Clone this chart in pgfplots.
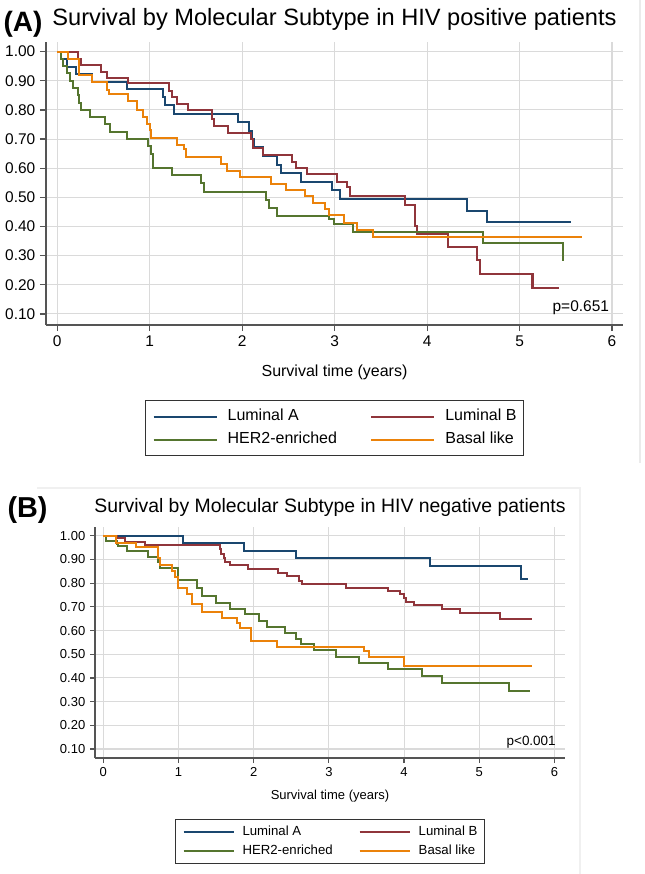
\documentclass[border=0pt]{standalone}
\usepackage{fontspec}
\setmainfont{Liberation Sans}
\usepackage{pgfplots}
\pgfplotsset{compat=1.18}
\definecolor{cA}{RGB}{26,71,111}
\definecolor{cB}{RGB}{144,53,59}
\definecolor{cH}{RGB}{85,117,47}
\definecolor{cO}{RGB}{235,130,10}
\definecolor{gridc}{RGB}{218,218,218}
\definecolor{axc}{RGB}{85,85,85}
\pgfplotsset{
  km/.style={
    scale only axis,
    axis x line*=bottom, axis y line*=left,
    axis line style={-, axc, line width=1.1pt},
    tick style={axc, line width=0.9pt},
    tick align=outside,
    xtick={0,1,2,3,4,5,6},
    ytick={0.1,0.2,0.3,0.4,0.5,0.6,0.7,0.8,0.9,1.0},
    yticklabel style={/pgf/number format/.cd, fixed, fixed zerofill, precision=2},
    /pgf/number format/assume math mode=true,
    grid=major, grid style={gridc, line width=0.8pt},
    legend columns=2,
    legend cell align=left,
  },
}
\begin{document}
\begin{tikzpicture}
\path[use as bounding box] (0pt,0pt) rectangle (483pt,-655.5pt);
% light panel frames
\draw[black!8, line width=0.8pt] (480pt,0pt) -- (480pt,-347pt);
\draw[black!6, line width=0.8pt] (27.75pt,-366pt) -- (435pt,-366pt) -- (435pt,-655.5pt);

% ---------------- Panel A ----------------
\begin{axis}[km,
  at={(34.5pt,-243.75pt)}, anchor=south west,
  width=432.75pt, height=212.25pt,
  xmin=-0.122, xmax=6.119, ymin=0.062, ymax=1.033,
  major tick length=4.5pt,
  tick label style={font=\fontsize{11.6}{13}\selectfont},
  xlabel={Survival time (years)},
  xlabel style={font=\fontsize{12}{14}\selectfont, at={(axis description cs:0.5,0)}, anchor=center, yshift=-35.25pt},
  title={Survival by Molecular Subtype in HIV positive patients},
  title style={font=\fontsize{17.7}{20}\selectfont, at={(axis description cs:0.5,1)}, anchor=base, yshift=6.75pt},
  legend style={at={(0.1716,-0.265)}, anchor=north west, draw=black!80, line width=0.9pt,
    font=\fontsize{12}{14}\selectfont, inner xsep=5.25pt, inner ysep=6.4pt, row sep=6.15pt,
    nodes={inner xsep=0pt, inner ysep=0pt, text height=8.6pt, text depth=2.5pt},
    /tikz/every odd column/.append style={column sep=7.5pt},
    /tikz/every even column/.append style={column sep=25pt}},
  legend image code/.code={\draw[#1] (0pt,0pt) -- (47.25pt,0pt);},
]
\addplot[const plot, cA, line width=1.5pt] coordinates {(0,1.00) (0.04,0.975) (0.10,0.948) (0.20,0.922) (0.38,0.897) (0.75,0.871) (1.14,0.843) (1.17,0.817) (1.26,0.786) (1.96,0.757) (2.07,0.729) (2.11,0.70) (2.13,0.672) (2.22,0.642) (2.38,0.611) (2.42,0.582) (2.64,0.554) (2.97,0.525) (3.06,0.493) (4.43,0.454) (4.65,0.414) (5.56,0.414)};
\addlegendentry{Luminal A}
\addplot[const plot, cB, line width=1.5pt] coordinates {(0,1.00) (0.22,0.975) (0.26,0.955) (0.47,0.93) (0.54,0.91) (0.76,0.893) (1.21,0.865) (1.24,0.845) (1.30,0.82) (1.41,0.80) (1.67,0.77) (1.70,0.745) (1.85,0.72) (2.09,0.70) (2.12,0.67) (2.22,0.645) (2.54,0.62) (2.58,0.60) (2.70,0.579) (3.03,0.554) (3.13,0.537) (3.17,0.506) (3.76,0.474) (3.87,0.40) (3.89,0.373) (4.23,0.328) (4.54,0.285) (4.57,0.236) (5.14,0.188) (5.43,0.188)};
\addlegendentry{Luminal B}
\addplot[const plot, cH, line width=1.5pt] coordinates {(0,1.00) (0.04,0.975) (0.06,0.95) (0.10,0.925) (0.14,0.90) (0.17,0.875) (0.22,0.85) (0.24,0.825) (0.26,0.80) (0.35,0.775) (0.52,0.75) (0.57,0.725) (0.75,0.70) (0.98,0.675) (1.01,0.65) (1.04,0.60) (1.24,0.575) (1.55,0.55) (1.59,0.52) (2.26,0.49) (2.29,0.465) (2.38,0.435) (2.94,0.425) (2.99,0.41) (3.20,0.38) (4.60,0.342) (5.47,0.283)};
\addlegendentry{HER2-enriched}
\addplot[const plot, cO, line width=1.5pt] coordinates {(0,1.00) (0.12,0.975) (0.23,0.95) (0.24,0.92) (0.38,0.895) (0.54,0.87) (0.56,0.855) (0.77,0.83) (0.86,0.80) (0.93,0.775) (0.97,0.75) (1.00,0.73) (1.01,0.705) (1.30,0.68) (1.37,0.665) (1.39,0.64) (1.77,0.615) (1.84,0.59) (1.98,0.57) (2.31,0.545) (2.47,0.525) (2.68,0.505) (2.77,0.48) (2.90,0.46) (2.94,0.44) (3.10,0.413) (3.24,0.388) (3.42,0.365) (5.68,0.365)};
\addlegendentry{Basal like}
\node[anchor=east, font=\fontsize{11.6}{13}\selectfont, inner sep=0pt] at (axis cs:5.97,0.12) {p=0.651};
\end{axis}
\node[anchor=base west, font=\fontsize{21}{24}\selectfont\bfseries, inner sep=0pt] at (2.5pt,-23.5pt) {(A)};

% ---------------- Panel B ----------------
\begin{axis}[km,
  at={(71.25pt,-568.5pt)}, anchor=south west,
  width=352.5pt, height=173.25pt,
  xmin=-0.11, xmax=6.14, ymin=0.062, ymax=1.037,
  major tick length=3.75pt,
  tick label style={font=\fontsize{9.75}{11}\selectfont},
  xlabel={Survival time (years)},
  xlabel style={font=\fontsize{9.75}{11}\selectfont, at={(axis description cs:0.5,0)}, anchor=center, yshift=-28.5pt},
  title={Survival by Molecular Subtype in HIV negative patients},
  title style={font=\fontsize{14.55}{17}\selectfont, at={(axis description cs:0.5,1)}, anchor=base, yshift=5.25pt},
  legend style={at={(0.170,-0.264)}, anchor=north west, draw=black!80, line width=0.9pt,
    font=\fontsize{9.9}{12}\selectfont, inner xsep=5.25pt, inner ysep=4.8pt, row sep=5.15pt,
    nodes={inner xsep=0pt, inner ysep=0pt, text height=7.1pt, text depth=2pt},
    /tikz/every odd column/.append style={column sep=6pt},
    /tikz/every even column/.append style={column sep=19.5pt}},
  legend image code/.code={\draw[#1] (0pt,0pt) -- (37.5pt,0pt);},
]
\addplot[const plot, cA, line width=1.5pt] coordinates {(0,1.0) (1.06,0.969) (1.87,0.937) (2.56,0.905) (4.34,0.873) (5.55,0.817) (5.65,0.817)};
\addlegendentry{Luminal A}
\addplot[const plot, cB, line width=1.5pt] coordinates {(0,1.0) (0.18,0.99) (0.29,0.975) (0.56,0.96) (1.55,0.945) (1.57,0.925) (1.60,0.905) (1.62,0.89) (1.69,0.875) (1.93,0.86) (2.33,0.845) (2.44,0.83) (2.60,0.81) (2.64,0.795) (3.23,0.778) (3.78,0.767) (3.94,0.754) (4.00,0.736) (4.03,0.722) (4.13,0.707) (4.51,0.693) (4.74,0.675) (5.27,0.648) (5.70,0.648)};
\addlegendentry{Luminal B}
\addplot[const plot, cH, line width=1.5pt] coordinates {(0,1.0) (0.04,0.98) (0.18,0.965) (0.20,0.955) (0.31,0.935) (0.60,0.91) (0.73,0.89) (0.75,0.865) (1.00,0.815) (1.24,0.78) (1.31,0.745) (1.50,0.715) (1.68,0.69) (1.89,0.668) (2.07,0.64) (2.18,0.615) (2.42,0.59) (2.56,0.565) (2.63,0.543) (2.80,0.517) (3.09,0.489) (3.40,0.464) (3.78,0.436) (4.24,0.408) (4.51,0.38) (5.40,0.346) (5.68,0.346)};
\addlegendentry{HER2-enriched}
\addplot[const plot, cO, line width=1.5pt] coordinates {(0,1.0) (0.17,0.97) (0.44,0.953) (0.73,0.905) (0.75,0.875) (0.92,0.85) (0.95,0.825) (1.00,0.78) (1.11,0.755) (1.18,0.71) (1.31,0.68) (1.58,0.655) (1.78,0.63) (1.82,0.61) (1.96,0.58) (1.97,0.555) (2.31,0.532) (3.47,0.515) (3.54,0.49) (4.00,0.45) (5.70,0.45)};
\addlegendentry{Basal like}
\node[anchor=east, font=\fontsize{10.1}{12}\selectfont, inner sep=0pt] at (axis cs:6.02,0.13) {p<0.001};
\end{axis}
\node[anchor=base west, font=\fontsize{21.6}{24}\selectfont\bfseries, inner sep=0pt] at (5.5pt,-387.75pt) {(B)};
\end{tikzpicture}
\end{document}
